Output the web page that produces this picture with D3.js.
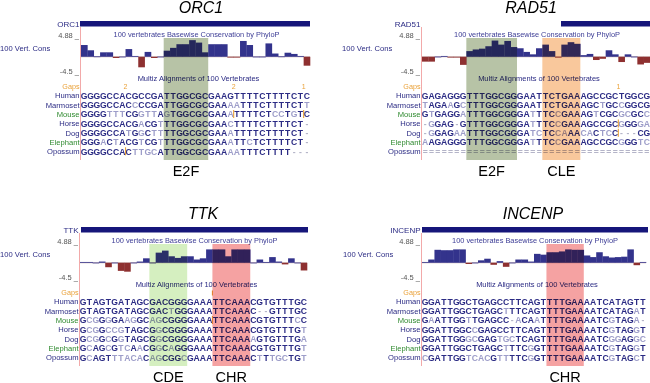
<!DOCTYPE html>
<html><head><meta charset="utf-8">
<script src="https://cdn.jsdelivr.net/npm/d3@7"></script>
<style>body{margin:0;background:#fff} svg{display:block;font-family:Arial,"Liberation Sans",sans-serif}</style>
</head><body><svg id="c" width="650" height="383"></svg>
<script>
// ---------- DATA ----------
const species = ["Human","Marmoset","Mouse","Horse","Dog","Elephant","Opossum"];
const speciesGreen = ["Mouse","Elephant"];
const titles = ["ORC1","RAD51","TTK","INCENP"];
const consDomain = [-4.5, 4.88];
const consTickLabels = ["4.88 _", "-4.5 _"];

const orc1Seqs = [
  "GGGGCCACGCCGATTGGCGCGAAGTTTTCTTTTCTC",
  "GGGGCCACCCCGATTGGCGCGAAAATTTCTTTTCTT",
  "GGGGTTTCGGTTAGTGGCGCGAAATTTTCTCCTGTC",
  "GGGGCCACGACGTTTGGCGCGAACTTTTCTTTTCT-",
  "GGGGCCATGGCTTTTGGCGCGAAATTTTCTTTTCT-",
  "GGGACTACGTCGTTTGGCGCGAAATTCTCTTTTCT-",
  "GGGGCCACTTGCATTGGCGCGAAAATTTCTTTT---"
];
const orc1Cons = [2.9,1.6,0.1,1.1,1.1,-0.3,0.05,1.9,0.2,-2.6,1.2,-0.3,0.05,1.5,2.2,3.1,3.1,4.1,3.5,1.1,3.1,3.1,3.1,-0.1,-0.1,3.9,2.9,0.05,0.05,3.3,0.8,0.1,1.0,0.7,0.2,-2.2];
const orc1Boxes = [{from:13, to:19, label:"E2F", color:"#b7c3a6"}];
const orc1Gaps = [{at:7, n:"2"},{at:24, n:"2"},{at:35, n:"1"}];
const orc1GapTicks = [];
const orc1Inserts = [{row:2, at:24},{row:2, at:35},{row:6, at:7}];

const rad51Seqs = [
  "GAGAGGGTTTGGCGGGAATTCTGAAAGCCGCTGGCG",
  "TAGAAGCTTTGGCGGGAATTCTGAAAGCTGCCGGCG",
  "GTGAGGATTTGGCGGGATTTCCGAAAGTCGCGCGCC",
  "-GGAG-GTTTGGCGGGATTTCCGAAAGCCGCGGGGA",
  "-GGAGAATTTGGCGGGATCTCCAAACACTCC---CG",
  "AAGAGGGTTTGGCGGGATTTCCGAAAGCCGCGGGTC",
  "===================================="
];
const rad51Cons = [-1.2,-1.2,0.05,0.2,-0.1,-0.1,-2.0,1.4,1.8,2.0,2.6,4.0,3.0,3.9,2.4,2.1,1.2,0.6,2.1,3.0,1.4,-0.2,3.0,3.6,3.2,0.4,0.7,-0.8,-0.5,1.6,0.6,-1.3,0.6,0.05,-1.9,-1.5];
const rad51Boxes = [{from:7, to:14, label:"E2F", color:"#b7c3a6"},{from:19, to:24, label:"CLE", color:"#f9c89c"}];
const rad51Gaps = [{at:31, n:"1"}];
const rad51GapTicks = [];
const rad51Inserts = [{row:3, at:31},{row:4, at:31}];

const ttkSeqs = [
  "GTAGTGATAGCGACGGGGAAATTCAAACGTGTTTGC",
  "GTAGTGATAGCGACTGGGAAATTCAAAC--GTTTGC",
  "GCGGGGAAGGCAGCGGGGAAATTCAAACGTGTTTCC",
  "GCGGCCGTAGCGGCGGGGAAATTCAAACGTGTTTGT",
  "GCGGCGGTAGCGGCGGGGAAATTCAAAAGTGTTTGA",
  "GCAGCGTCAACGGCAGGGAAATTCAAACGTGTTTGT",
  "GCAGTTTACACAGCGGCGAAATTCAAACTTTGCTGT"
];
const ttkCons = [0.2,0.2,0.05,0.3,-1.1,0.05,-2.0,-2.2,0.05,0.3,1.1,0.05,2.5,3.0,1.6,1.2,1.6,1.6,0.8,1.1,3.3,3.3,3.3,1.6,3.3,3.3,3.3,0.05,0.8,0.2,1.4,0.3,-0.4,1.1,0.05,-1.9];
const ttkBoxes = [{from:11, to:16, label:"CDE", color:"#d5efc0"},{from:21, to:26, label:"CHR", color:"#f5a2a2"}];
const ttkGaps = [];
const ttkGapTicks = [21];
const ttkInserts = [{row:2, at:21}];

const incenpSeqs = [
  "GGATTGGCTGAGCCTTCAGTTTTGAAAATCATAGTT",
  "GGATTGGCTGAGCTTTCAGTTTTGAAAATCATAGAT",
  "GAATTGGTTGAGCC-ACAATTTTGAAAATCGTAGA-",
  "GGATTGGCCGAGCCTTCAGTTTTGAAAATCGTAGGT",
  "GGATTGGGCGAGTGCTCAGTTTTGAAAATCGGAGGC",
  "GGATTGGCTGAGCTTTCGGTTTTGAAAATCGTAGGT",
  "CGATTGGTCACGTTTTCGGTTTTGAAAATCGTAGCT"
];
const incenpCons = [0.2,0.8,3.2,3.1,3.1,3.3,3.3,-0.3,0.05,0.6,1.0,-0.5,0.4,-1.0,0.05,0.8,0.8,0.3,2.2,2.0,2.6,2.6,2.8,3.3,3.2,3.2,1.8,1.4,2.6,1.6,1.3,1.4,1.5,3.3,-0.6,0.2];
const incenpBoxes = [{from:20, to:25, label:"CHR", color:"#f5a2a2"}];
const incenpGaps = [];
const incenpGapTicks = [];
const incenpInserts = [];

// ---------- LAYOUT ----------
const panels = [
  {title:titles[0], seqs:orc1Seqs, cons:orc1Cons, boxes:orc1Boxes, gaps:orc1Gaps, gapTicks:orc1GapTicks, inserts:orc1Inserts,
   x0:81, x1:310, oy:0, gene:[80,310], titleX:201, consLabelX:0},
  {title:titles[1], seqs:rad51Seqs, cons:rad51Cons, boxes:rad51Boxes, gaps:rad51Gaps, gapTicks:rad51GapTicks, inserts:rad51Inserts,
   x0:422, x1:650, oy:0, gene:[561,650], titleX:531, consLabelX:342},
  {title:titles[2], seqs:ttkSeqs, cons:ttkCons, boxes:ttkBoxes, gaps:ttkGaps, gapTicks:ttkGapTicks, inserts:ttkInserts,
   x0:80, x1:307, oy:206, gene:[81,308], titleX:203, consLabelX:0},
  {title:titles[3], seqs:incenpSeqs, cons:incenpCons, boxes:incenpBoxes, gaps:incenpGaps, gapTicks:incenpGapTicks, inserts:incenpInserts,
   x0:422, x1:646, oy:206, gene:[422,648], titleX:533, consLabelX:343}
];

const NAVY = "#2b2b84", LIGHT = "#9d9dc9", GREEN = "#2f8a2f", ORANGE = "#eaa23a";
const POS = "#33338c", NEG = "#8e3030";
const rowY0 = 95.5, rowStep = 9.3;

const svg = d3.select("#c");

panels.forEach(p => {
  const g = svg.append("g").attr("transform", `translate(0,${p.oy})`);
  const n = p.seqs[0].length;
  const x = d3.scaleBand().domain(d3.range(n)).range([p.x0, p.x1]).padding(0);
  const bw = x.bandwidth();
  const xb = k => p.x0 + k * bw; // boundary position
  const y = d3.scaleLinear().domain(consDomain).range([75, 37]);
  const rowY = d3.scaleLinear().domain([0, 1]).range([rowY0, rowY0 + rowStep]);

  // title
  g.append("text").attr("x", p.titleX).attr("y", 13).attr("text-anchor", "middle")
    .attr("font-size", 16).attr("font-style", "italic").attr("fill", "#000").text(p.title);

  // pink left line
  g.append("line").attr("x1", p.x0 - 0.5).attr("x2", p.x0 - 0.5).attr("y1", 27).attr("y2", 160)
    .attr("stroke", "#f2a9a9").attr("stroke-width", 1);

  // gene bar + label
  g.append("rect").attr("x", p.gene[0]).attr("y", 21).attr("width", p.gene[1] - p.gene[0]).attr("height", 5.5)
    .attr("fill", "#16167a");
  g.append("text").attr("x", p.x0 - 1.5).attr("y", 27).attr("text-anchor", "end")
    .attr("font-size", 8).attr("fill", NAVY).text(p.title);

  // scale labels
  g.append("text").attr("x", p.x0 - 2).attr("y", 37.5).attr("text-anchor", "end")
    .attr("font-size", 7.5).attr("fill", "#555").text(consTickLabels[0]);
  g.append("text").attr("x", p.x0 - 2).attr("y", 73.5).attr("text-anchor", "end")
    .attr("font-size", 7.5).attr("fill", "#555").text(consTickLabels[1]);
  g.append("text").attr("x", p.consLabelX).attr("y", 51).attr("font-size", 7.6)
    .attr("fill", NAVY).text("100 Vert. Cons");

  // track title
  g.append("text").attr("x", (p.x0 + p.x1) / 2 + 1).attr("y", 37).attr("text-anchor", "middle")
    .attr("font-size", 7.4).attr("fill", "#3d3d96").text("100 vertebrates Basewise Conservation by PhyloP");

  // baseline
  g.append("line").attr("x1", p.x0).attr("x2", p.x1).attr("y1", y(0)).attr("y2", y(0))
    .attr("stroke", "#b89a9a").attr("stroke-width", 0.7);

  // bars
  g.selectAll("rect.bar").data(p.cons).join("rect").attr("class", "bar")
    .attr("x", (d, i) => x(i)).attr("width", bw + 0.3)
    .attr("y", d => Math.min(y(d), y(0)))
    .attr("height", d => Math.max(0.8, Math.abs(y(d) - y(0))))
    .attr("fill", d => d >= 0 ? POS : NEG);

  // multiz title
  g.append("text").attr("x", (p.x0 + p.x1) / 2 + 3).attr("y", 81.3).attr("text-anchor", "middle")
    .attr("font-size", 7.5).attr("fill", NAVY).text("Multiz Alignments of 100 Vertebrates");

  // Gaps
  g.append("text").attr("x", p.x0 - 1.5).attr("y", 89.4).attr("text-anchor", "end")
    .attr("font-size", 7.2).attr("fill", ORANGE).text("Gaps");
  g.selectAll("text.gap").data(p.gaps).join("text").attr("class", "gap")
    .attr("x", d => xb(d.at)).attr("y", 89.4).attr("text-anchor", "middle")
    .attr("font-size", 7).attr("fill", ORANGE).text(d => d.n);
  g.selectAll("line.gt").data(p.gapTicks).join("line").attr("class", "gt")
    .attr("x1", d => xb(d)).attr("x2", d => xb(d)).attr("y1", 84.5).attr("y2", 89.5)
    .attr("stroke", ORANGE).attr("stroke-width", 1.1);

  // species labels
  g.selectAll("text.sp").data(species).join("text").attr("class", "sp")
    .attr("x", p.x0 - 1.5).attr("y", (d, i) => rowY(i) + 2.8).attr("text-anchor", "end")
    .attr("font-size", 7.6).attr("fill", d => speciesGreen.includes(d) ? GREEN : NAVY).text(d => d);

  // sequences
  const human = p.seqs[0];
  p.seqs.forEach((s, r) => {
    const letters = s.split("").map((c, i) => ({c, i}));
    g.selectAll(`text.l${r}`).data(letters).join("text").attr("class", `l${r}`)
      .attr("x", d => x(d.i) + bw / 2).attr("y", rowY(r) + 3.2).attr("text-anchor", "middle")
      .attr("font-size", 8.6).attr("font-weight", "bold")
      .attr("fill", d => (d.c === "-" || d.c === "=") ? "#b4b4c8" : (r === 0 || d.c === human[d.i]) ? NAVY : LIGHT)
      .text(d => d.c);
  });

  // insertion markers
  g.selectAll("line.ins").data(p.inserts).join("line").attr("class", "ins")
    .attr("x1", d => xb(d.at)).attr("x2", d => xb(d.at))
    .attr("y1", d => rowY(d.row) - 4).attr("y2", d => rowY(d.row) + 4)
    .attr("stroke", ORANGE).attr("stroke-width", 1.1);

  // highlight boxes
  g.selectAll("rect.box").data(p.boxes).join("rect").attr("class", "box")
    .attr("x", d => xb(d.from)).attr("width", d => xb(d.to + 1) - xb(d.from))
    .attr("y", 38).attr("height", 122).attr("fill", d => d.color)
    .style("mix-blend-mode", "multiply");

  // motif labels
  g.selectAll("text.motif").data(p.boxes).join("text").attr("class", "motif")
    .attr("x", d => (xb(d.from) + xb(d.to + 1)) / 2).attr("y", 176).attr("text-anchor", "middle")
    .attr("font-size", 14.5).attr("fill", "#000").text(d => d.label);
});
</script></body></html>
